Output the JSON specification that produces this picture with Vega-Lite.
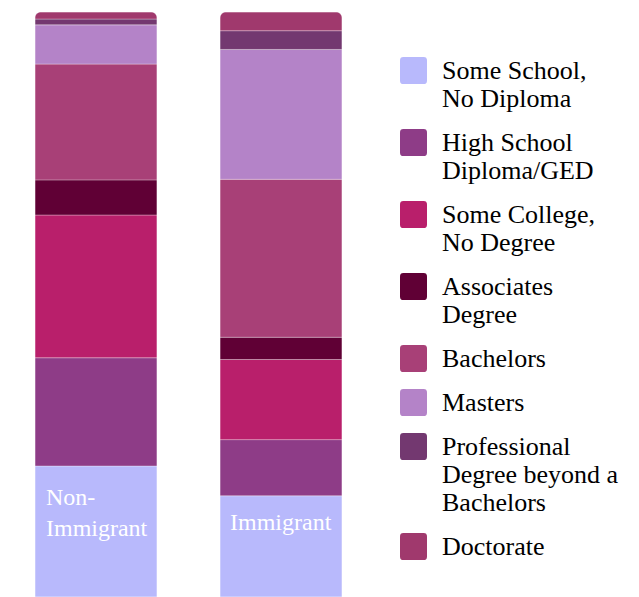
{
  "$schema": "https://vega.github.io/schema/vega-lite/v6.json",
  "width": 377,
  "height": 585,
  "autosize": {"type": "none"},
  "padding": {"top": 12, "left": 0, "right": 262, "bottom": 0},
  "config": {"view": {"stroke": null}, "legend": {"labelFont": "Liberation Serif", "labelFontSize": 26}},
  "datasets": {
    "edu": [
      {"group": "Non-Immigrant", "level": "Some School,|No Diploma", "rank": 1, "pct": 22.4},
      {"group": "Non-Immigrant", "level": "High School|Diploma/GED", "rank": 2, "pct": 18.5},
      {"group": "Non-Immigrant", "level": "Some College,|No Degree", "rank": 3, "pct": 24.4},
      {"group": "Non-Immigrant", "level": "Associates|Degree", "rank": 4, "pct": 6.0},
      {"group": "Non-Immigrant", "level": "Bachelors", "rank": 5, "pct": 19.8},
      {"group": "Non-Immigrant", "level": "Masters", "rank": 6, "pct": 6.7},
      {"group": "Non-Immigrant", "level": "Professional|Degree beyond a|Bachelors", "rank": 7, "pct": 1.0},
      {"group": "Non-Immigrant", "level": "Doctorate", "rank": 8, "pct": 1.2},
      {"group": "Immigrant", "level": "Some School,|No Diploma", "rank": 1, "pct": 17.3},
      {"group": "Immigrant", "level": "High School|Diploma/GED", "rank": 2, "pct": 9.6},
      {"group": "Immigrant", "level": "Some College,|No Degree", "rank": 3, "pct": 13.7},
      {"group": "Immigrant", "level": "Associates|Degree", "rank": 4, "pct": 3.8},
      {"group": "Immigrant", "level": "Bachelors", "rank": 5, "pct": 27.0},
      {"group": "Immigrant", "level": "Masters", "rank": 6, "pct": 22.2},
      {"group": "Immigrant", "level": "Professional|Degree beyond a|Bachelors", "rank": 7, "pct": 3.2},
      {"group": "Immigrant", "level": "Doctorate", "rank": 8, "pct": 3.2}
    ],
    "labels": [
      {"group": "Non-Immigrant", "text": ["Non-", "Immigrant"]},
      {"group": "Immigrant", "text": ["Immigrant"]}
    ]
  },
  "layer": [
    {
      "data": {"name": "edu"},
      "mark": {
        "type": "bar",
        "stroke": "#ffffff",
        "strokeWidth": 0.6,
        "strokeOpacity": 0.5,
        "cornerRadiusTopLeft": 6,
        "cornerRadiusTopRight": 6
      },
      "encoding": {
        "x": {
          "field": "group",
          "type": "nominal",
          "sort": ["Non-Immigrant", "Immigrant"],
          "scale": {"paddingInner": 0.3405, "paddingOuter": 0.189},
          "axis": null
        },
        "y": {
          "field": "pct",
          "type": "quantitative",
          "stack": "zero",
          "scale": {"domain": [0, 100], "nice": false},
          "axis": null
        },
        "color": {
          "field": "level",
          "type": "nominal",
          "scale": {
            "domain": [
              "Some School,|No Diploma",
              "High School|Diploma/GED",
              "Some College,|No Degree",
              "Associates|Degree",
              "Bachelors",
              "Masters",
              "Professional|Degree beyond a|Bachelors",
              "Doctorate"
            ],
            "range": ["#b8b9fc", "#8e3c87", "#b91f6b", "#600035", "#a84077", "#b483c8", "#733870", "#a0396d"]
          },
          "legend": {
            "title": null,
            "orient": "none",
            "legendX": 400,
            "legendY": 45,
            "padding": 0,
            "rowPadding": 17,
            "symbolType": "M -0.75,-1 L 0.75,-1 Q 1,-1 1,-0.75 L 1,0.75 Q 1,1 0.75,1 L -0.75,1 Q -1,1 -1,0.75 L -1,-0.75 Q -1,-1 -0.75,-1 Z",
            "symbolSize": 729,
            "symbolStrokeWidth": 0,
            "symbolOpacity": 1,
            "labelOffset": 15,
            "labelFont": "Liberation Serif",
            "labelFontSize": 26,
            "labelColor": "#000000",
            "labelLimit": 300,
            "labelExpr": "split(datum.label, '|')"
          }
        },
        "order": {"field": "rank", "type": "quantitative"}
      }
    },
    {
      "data": {"name": "labels"},
      "transform": [{"filter": "datum.group === 'Non-Immigrant'"}],
      "mark": {"type": "text", "align": "left", "baseline": "alphabetic", "dx": 11, "font": "Liberation Serif", "fontSize": 24, "lineHeight": 31, "color": "#ffffff"},
      "encoding": {
        "x": {"field": "group", "type": "nominal", "sort": ["Non-Immigrant", "Immigrant"], "bandPosition": 0},
        "y": {"datum": 15.7, "type": "quantitative"},
        "text": {"field": "text"}
      }
    },
    {
      "data": {"name": "labels"},
      "transform": [{"filter": "datum.group === 'Immigrant'"}],
      "mark": {"type": "text", "align": "left", "baseline": "alphabetic", "dx": 10, "font": "Liberation Serif", "fontSize": 24, "lineHeight": 31, "color": "#ffffff"},
      "encoding": {
        "x": {"field": "group", "type": "nominal", "sort": ["Non-Immigrant", "Immigrant"], "bandPosition": 0},
        "y": {"datum": 11.5, "type": "quantitative"},
        "text": {"field": "text"}
      }
    }
  ]
}
